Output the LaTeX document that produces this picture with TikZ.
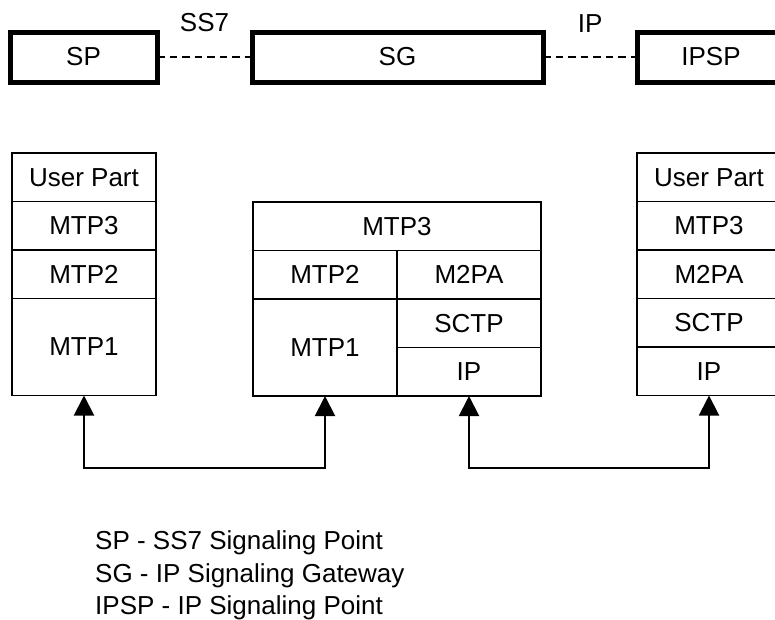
\documentclass[tikz,border=0pt]{standalone}
\usepackage{fontspec}
\setmainfont{Liberation Sans}
\usetikzlibrary{arrows.meta, positioning}
\tikzstyle{host}=[draw, line width=5pt, minimum height=50pt, inner sep=0pt, outer sep=0pt]
\tikzstyle{cell}=[draw, line width=1.8pt, minimum width=144pt, minimum height=48.5pt, inner sep=0pt, outer sep=0pt]
\tikzstyle{link}=[line width=2pt, dash pattern=on 7.5pt off 5pt]
\tikzstyle{arr}=[line width=2pt, {Triangle[width=20pt,length=20pt]}-{Triangle[width=20pt,length=20pt]}]

\begin{document}
\begin{tikzpicture}[x=1pt, y=-1pt, node distance=0pt, font=\fontsize{26}{30}\selectfont]
    \useasboundingbox (0,0) rectangle (775,619);

    % signalling entities
    \node [host, minimum width=147pt](sp) at (83.5,57) {SP};
    \node [host, minimum width=291pt](sg) at (397.5,57) {SG};
    \node [host, minimum width=147pt](ipsp) at (711,57) {IPSP};
    \path (sp) edge[link] node[above=24pt, inner sep=0pt] {SS7} (sg);
    \path (sg) edge[link] node[above=24pt, inner sep=0pt] {IP} (ipsp);

    % SP stack
    \node [cell](l1) at (84,177.25) {User Part};
    \node [cell, below=of l1](l2) {MTP3};
    \node [cell, below=of l2](l3) {MTP2};
    \node [cell, below=of l3, minimum height=97pt](l4) {MTP1};

    % SG stack
    \node [cell, minimum width=288pt](m1) at (397,226.25) {MTP3};
    \node [cell, anchor=north west](m2) at (m1.south west) {MTP2};
    \node [cell, right=of m2](m3) {M2PA};
    \node [cell, below=of m2, minimum height=97pt](m4) {MTP1};
    \node [cell, below=of m3](m5) {SCTP};
    \node [cell, below=of m5](m6) {IP};

    % IPSP stack
    \node [cell](r1) at (709,177.25) {User Part};
    \node [cell, below=of r1](r2) {MTP3};
    \node [cell, below=of r2](r3) {M2PA};
    \node [cell, below=of r3](r4) {SCTP};
    \node [cell, below=of r4](r5) {IP};

    \draw[arr] (l4.south) -- ++(0,72) -| (m4.south);
    \draw[arr] (m6.south) -- ++(0,72) -| (r5.south);

    % legend
    \node [anchor=base west, inner sep=0pt](k1) at (95,549) {SP - SS7 Signaling Point};
    \node [anchor=base west, inner sep=0pt](k2) at (95,582) {SG - IP Signaling Gateway};
    \node [anchor=base west, inner sep=0pt](k3) at (95,614) {IPSP - IP Signaling Point};
\end{tikzpicture}
\end{document}
